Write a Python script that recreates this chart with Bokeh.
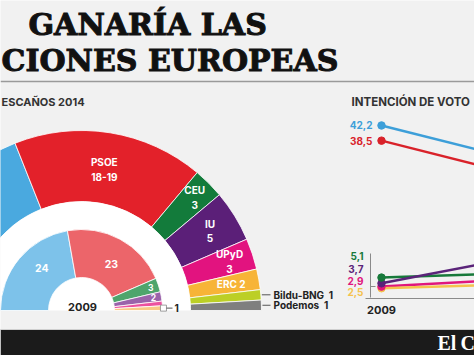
import numpy as np
from math import pi
from bokeh.plotting import figure
from bokeh.models import Range1d, ColumnDataSource
from bokeh.core.properties import value
from bokeh.embed import file_html
from bokeh.resources import INLINE

# ---------------- data ----------------
title_lines = ["GANARÍA LAS", "CIONES EUROPEAS"]
left_heading = "ESCAÑOS 2014"
right_heading = "INTENCIÓN DE VOTO"
footer_text = "El\u2009C"

parties_2014 = ["PP", "PSOE", "CEU", "IU", "UPyD", "ERC", "Bildu-BNG", "Podemos"]
seats_2014 = [20.5, 18.5, 3, 5, 3, 2, 1, 1]
labels_2014 = ["20-21", "18-19", "3", "5", "3", "2", "1", "1"]

parties_2009 = ["PP", "PSOE", "CEU", "IU", "UPyD", "EdP"]
seats_2009 = [24, 23, 3, 2, 1, 1]
year_2009 = "2009"

poll_parties = ["PP", "PSOE", "CEU", "IU", "UPyD", "ERC"]
poll_years = [2009, 2014]
poll_2009 = [42.2, 38.5, 5.1, 3.7, 2.9, 2.5]
poll_2014 = [29.9, 26.2, 6.7, 13.1, 5.6, 4.0]

# ---------------- styles ----------------
colors_2014 = ["#4aa9df", "#e3212a", "#137b3b", "#5b1f78", "#e2137f", "#f7b437", "#bccf26", "#7f7f7f"]
colors_2009 = ["#7dc2ea", "#ec656a", "#4ea56c", "#9a63aa", "#ec519f", "#f9c987"]
poll_colors = ["#3d9fd9", "#d9222a", "#17793a", "#5a2379", "#e0157d", "#f5c24e"]
label_mode_2014 = ["none", "in2", "in2", "in2", "in2", "in1", "out", "out"]
label_r_2014 = [145, 143, 160, 151, 156, 152, 180, 180]
label_r_2009 = [58, 55, 73, 73, 0, 0]
label_da_2009 = [-0.12, -0.08, 0, 0, 0, 0]
label_mode_2009 = ["in", "in", "in", "in", "none", "out"]
poll_dx = [-9, -9, -18, -18, -18, -18]
poll_dy = [0, 0, -22, -14, -6, 4]

BG = "#f1f1f1"
SANS = "Inter"
W, H = 474, 355
cx, cy = 81, H - 310           # hemicycle centre
R_OUT, R_IN = 180, 109
R9_OUT, R9_IN = 81, 33

p = figure(width=W, height=H, x_range=Range1d(0, W), y_range=Range1d(0, H),
           output_backend="svg", toolbar_location=None, title=None,
           min_border=0, background_fill_color=BG, border_fill_color=BG)
p.axis.visible = False
p.grid.visible = False
p.outline_line_color = None

def angles(seats):
    s = np.array(seats, dtype=float)
    tot = s.sum()
    cum_end = np.cumsum(s)
    cum_start = cum_end - s
    a_start = pi * (1 - cum_end / tot)
    a_end = pi * (1 - cum_start / tot)
    return a_start, a_end, (a_start + a_end) / 2

# ---------------- title ----------------
title_kw = dict(x=[28, 1], y=[H - 24, H - 60], text=title_lines,
                text_font=value("DejaVu Serif"), text_font_style="bold",
                text_font_size="30px", text_align="left", text_baseline="middle",
                text_color="#111111")
try:
    p.text(text_outline_color="#111111", **title_kw)
except Exception:
    p.text(**title_kw)
p.segment(x0=[0], y0=[H - 81], x1=[W], y1=[H - 81], line_color="#9a9a9a", line_width=1.5)

p.text(x=[1], y=[H - 101.5], text=[left_heading], text_font=value(SANS),
       text_font_style="bold", text_font_size="11px", text_baseline="middle",
       text_color="#333333")
p.text(x=[351], y=[H - 101.5], text=[right_heading], text_font=value(SANS),
       text_font_style="bold", text_font_size="11.5px", text_baseline="middle",
       text_color="#333333")

# ---------------- hemicycle 2014 ----------------
a0, a1, am = angles(seats_2014)
p.annular_wedge(x=cx, y=cy, inner_radius=R_IN, outer_radius=R_OUT,
                start_angle=a0, end_angle=a1, fill_color=colors_2014,
                line_color="white", line_width=0.8)
p.wedge(x=cx, y=cy, radius=R_IN, start_angle=0, end_angle=pi,
        fill_color="white", line_color=None)

in_x, in_y, in_t = [], [], []
out_x, out_y, out_t, lx0, lx1 = [], [], [], [], []
for i, mode in enumerate(label_mode_2014):
    if mode in ("in1", "in2"):
        sep = "\n" if mode == "in2" else " "
        in_x.append(cx + label_r_2014[i] * np.cos(am[i]))
        in_y.append(cy + label_r_2014[i] * np.sin(am[i]))
        in_t.append(f"{parties_2014[i]}{sep}{labels_2014[i]}")
    elif mode == "out":
        ex = cx + label_r_2014[i] * np.cos(am[i])
        ey = cy + label_r_2014[i] * np.sin(am[i])
        lx0.append(ex + 1); lx1.append(270); out_y.append(ey)
        out_x.append(273)
        out_t.append(f"{parties_2014[i]}\u00a0\u00a0{labels_2014[i]}")
p.text(x=in_x, y=in_y, text=in_t, text_font=value(SANS), text_font_style="bold",
       text_font_size="10px", text_align="center", text_baseline="middle",
       text_color="white", text_line_height=1.2)
p.segment(x0=lx0, y0=out_y, x1=lx1, y1=out_y, line_color="#555555", line_width=1)
p.text(x=out_x, y=out_y, text=out_t, text_font=value(SANS), text_font_style="bold",
       text_font_size="10px", text_baseline="middle", text_color="#222222")

# ---------------- hemicycle 2009 ----------------
b0, b1, bm = angles(seats_2009)
p.annular_wedge(x=cx, y=cy, inner_radius=R9_IN, outer_radius=R9_OUT,
                start_angle=b0, end_angle=b1, fill_color=colors_2009,
                line_color="white", line_width=0.8)
t9x, t9y, t9t = [], [], []
for i, mode in enumerate(label_mode_2009):
    if mode == "in":
        ang = bm[i] + label_da_2009[i]
        t9x.append(cx + label_r_2009[i] * np.cos(ang))
        t9y.append(cy + label_r_2009[i] * np.sin(ang))
        t9t.append(str(seats_2009[i]))
    elif mode == "out":
        bx = cx + (R9_OUT + 1) * np.cos(bm[i])
        by = cy + (R9_OUT + 1) * np.sin(bm[i])
        p.scatter(x=[bx], y=[by], marker="square", size=6, fill_color="white",
                  line_color="#888888", line_width=0.8)
        p.segment(x0=[bx + 3], y0=[by], x1=[172], y1=[by], line_color="#555555")
        p.text(x=[174], y=[by], text=[str(seats_2009[i])], text_font=value(SANS),
               text_font_style="bold", text_font_size="10px", text_baseline="middle",
               text_color="#222222")
p.text(x=t9x[:2], y=t9y[:2], text=t9t[:2], text_font=value(SANS), text_font_style="bold",
       text_font_size="10.5px", text_align="center", text_baseline="middle",
       text_color="white")
p.text(x=t9x[2:], y=t9y[2:], text=t9t[2:], text_font=value(SANS), text_font_style="bold",
       text_font_size="8.5px", text_align="center", text_baseline="middle",
       text_color="white")
p.text(x=[cx + 1], y=[cy + 4], text=[year_2009], text_font=value(SANS),
       text_font_style="bold", text_font_size="11px", text_align="center",
       text_baseline="middle", text_color="#222222")

# ---------------- poll line chart ----------------
px_per_year = 40.0
x_start = 2009 - 381 / px_per_year
p.extra_x_ranges = {"yr": Range1d(x_start, x_start + W / px_per_year)}
px_per_pt = 4.1
y_start = -57 / px_per_pt
p.extra_y_ranges = {"pct": Range1d(y_start, y_start + H / px_per_pt)}

p.segment(x0=[365], y0=[57], x1=[W], y1=[57], line_color="#8a8a8a", line_width=1)
p.segment(x0=[370, 370], y0=[58, 69], x1=[370, 375], y1=[102, 69],
          line_color="#8a8a8a", line_width=1)
p.text(x=[poll_years[0]], y=[0], text=[str(poll_years[0])], x_range_name="yr",
       y_range_name="pct", y_offset=11, text_font=value(SANS), text_font_style="bold",
       text_font_size="11px", text_align="center", text_baseline="middle",
       text_color="#222222")

src = ColumnDataSource(dict(
    xs=[poll_years] * len(poll_parties),
    ys=[[a, b] for a, b in zip(poll_2009, poll_2014)],
    color=poll_colors))
p.multi_line(xs="xs", ys="ys", line_color="color", line_width=2.5, source=src,
             x_range_name="yr", y_range_name="pct")
pts = ColumnDataSource(dict(
    x=[poll_years[0]] * len(poll_parties), y=poll_2009, color=poll_colors,
    lab=[f"{v:.1f}".replace(".", ",") for v in poll_2009], dx=poll_dx, dy=poll_dy))
order = [5, 4, 3, 2, 1, 0]
pts_draw = ColumnDataSource({k: [v[j] for j in order] for k, v in pts.data.items()})
p.scatter(x="x", y="y", size=7.5, fill_color="color", line_color="color",
          source=pts_draw, x_range_name="yr", y_range_name="pct")
p.text(x="x", y="y", text="lab", x_offset="dx", y_offset="dy", text_color="color",
       source=pts, x_range_name="yr", y_range_name="pct", text_font=value(SANS),
       text_font_style="bold", text_font_size="10px", text_align="right",
       text_baseline="middle")

# ---------------- footer ----------------
p.quad(left=[0], right=[W], bottom=[0], top=[26], fill_color="#1b1b1b", line_color=None)
p.segment(x0=[0], y0=[26], x1=[W], y1=[26], line_color="#cfcfcf", line_width=1)
p.text(x=[437], y=[12.5], text=[footer_text], text_font=value("Liberation Serif"),
       text_font_style="bold", text_font_size="20px", text_baseline="middle",
       text_color="white")

open("out.html", "w").write(file_html(p, INLINE))
